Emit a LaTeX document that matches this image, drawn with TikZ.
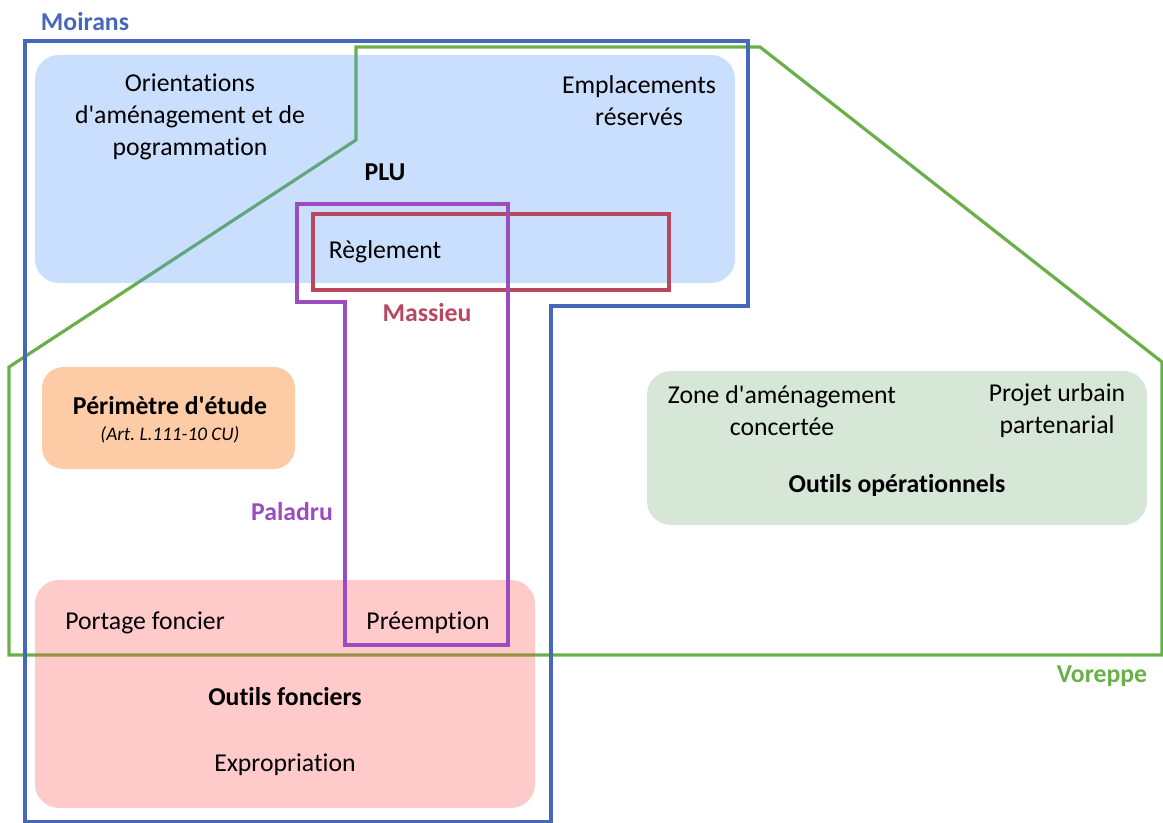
\documentclass[tikz,border=0pt]{standalone}
\usepackage{fontspec}
\setmainfont{Carlito}[Ligatures={NoCommon}]
\frenchspacing
\definecolor{cblue}{HTML}{4668B8}
\definecolor{cgreen}{HTML}{6AB04A}
\definecolor{cpurple}{HTML}{9B4CBE}
\definecolor{ccrim}{HTML}{B9485F}
\definecolor{fblue}{RGB}{78,148,248}
\definecolor{fred}{RGB}{255,78,78}
\definecolor{fgreen}{HTML}{D6E6D7}
\definecolor{forange}{HTML}{FDCBA5}
\newcommand{\apos}{\textquotesingle}
\tikzset{
  zone/.style={line width=2.4pt, line join=miter},
  area/.style={rounded corners=18pt, fill opacity=0.3},
  txt/.style={font=\fontsize{19.3}{24}\selectfont, align=center, inner sep=0pt, yshift=-1.5pt},
  btxt/.style={txt, font=\fontsize{19.3}{24}\selectfont\bfseries},
  small/.style={font=\fontsize{14.4}{17}\selectfont\itshape, inner sep=0pt, yshift=-1.5pt}
}
\begin{document}
\begin{tikzpicture}[x=0.75pt,y=-0.75pt]
\useasboundingbox (0,0) rectangle (1163,823);
% Voreppe (green) outline, below the fills
\draw[zone, cgreen] (356,47) -- (760,47) -- (1162,362) -- (1162,655) -- (9,655) -- (9,367) -- (356,140) -- cycle;
% fills
\fill[area, fblue] (35,55) rectangle (735,283);
\fill[area, fred] (35,580) rectangle (535,808);
\fill[rounded corners=18pt, fgreen] (647,371) rectangle (1147,525);
\fill[rounded corners=16pt, forange] (42,367) rectangle (295,469);
% Moirans (blue) outline
\draw[zone, cblue] (25,41) -- (748,41) -- (748,306) -- (551,306) -- (551,822) -- (25,822) -- cycle;
% Massieu (crimson) outline
\draw[zone, ccrim] (313,214) rectangle (669,290);
% Paladru (purple) outline
\draw[zone, cpurple] (297,204) -- (508,204) -- (508,645) -- (345,645) -- (345,302) -- (297,302) -- cycle;
% labels
\node[btxt, text=cblue] (moirans) at (85,20) {Moirans};
\node[btxt, text=cgreen] (voreppe) at (1102,674) {Voreppe};
\node[btxt, text=ccrim] (massieu) at (427,311) {Massieu};
\node[btxt, text=cpurple] (paladru) at (292,510) {Paladru};
% PLU
\node[txt] (oap) at (190,115) {Orientations\\d\apos aménagement et de\\pogrammation};
\node[txt] (er) at (639,99) {Emplacements\\réservés};
\node[btxt] (plu) at (385,170) {PLU};
\node[txt] (reg) at (385,250) {Règlement};
% Perimetre
\node[btxt] (per) at (170,404) {Périmètre d\apos étude};
\node[small] (art) at (170,433) {(Art. L.111-10 CU)};
% Outils operationnels
\node[txt] (zac) at (782,409) {Zone d\apos aménagement\\concertée};
\node[txt] (pup) at (1057,409) {Projet urbain\\partenarial};
\node[btxt] (oop) at (897,483) {Outils opérationnels};
% Outils fonciers
\node[txt] (port) at (145,621) {Portage foncier};
\node[txt] (pre) at (428,621) {Préemption};
\node[btxt] (ofo) at (285,695) {Outils fonciers};
\node[txt] (exp) at (285,763) {Expropriation};
\end{tikzpicture}
\end{document}
